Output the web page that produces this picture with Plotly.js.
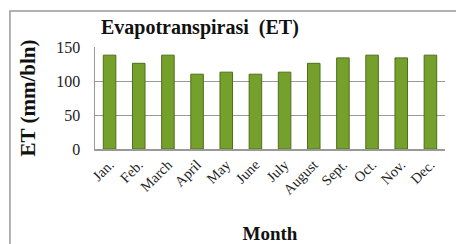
<!DOCTYPE html>
<html><head><meta charset="utf-8">
<script src="https://cdn.plot.ly/plotly-3.0.1.min.js"></script>
<style>html,body{margin:0;padding:0;background:#fff;}#chart{width:456px;height:244px;}</style>
</head><body><div id="chart"></div>
<script>
const months = ["Jan.","Feb.","March","April","May","June","July","August","Sept.","Oct.","Nov.","Dec."];
const etValues = [138,126,138,110,113,110,113,126,134,138,134,138];
const yTicks = [0,50,100,150];

const serif = "Liberation Serif, Times New Roman, serif";
const trace = {
  type: "bar", x: months, y: etValues, width: 0.43,
  marker: {color: "#76a02c", line: {color: "#4e6e1a", width: 1}},
  hoverinfo: "skip"
};
const layout = {
  width: 456, height: 244,
  margin: {l: 95, r: 11, t: 47, b: 95},
  paper_bgcolor: "#fff", plot_bgcolor: "#fff",
  showlegend: false,
  font: {family: serif, color: "#333"},
  xaxis: {
    type: "category", tickangle: -45, tickfont: {size: 14.5, family: serif, color: "#222"},
    showline: true, linecolor: "#999", linewidth: 1.5, ticks: "", showgrid: false,
    automargin: false,
    title: {text: "<b>Month</b>", font: {size: 19, family: serif, color: "#111"}, standoff: 30}
  },
  yaxis: {
    range: [0, 150], tickvals: yTicks, tickfont: {size: 16, family: serif, color: "#222"},
    showline: true, linecolor: "#999", linewidth: 1.5, gridcolor: "#999", gridwidth: 1,
    zeroline: false, ticks: "", ticklen: 0, ticklabelstandoff: 10, automargin: false,
    title: {text: "<b>ET (mm/bln)</b>", font: {size: 21, family: serif, color: "#111"}, standoff: 15}
  },
  annotations: [{
    text: "<b>Evapotranspirasi  (ET)</b>", xref: "paper", yref: "paper",
    x: 0.012, y: 1.19, xanchor: "left", yanchor: "middle", showarrow: false,
    font: {size: 20, family: serif, color: "#111"}
  }],
  shapes: [{
    type: "rect", xref: "paper", yref: "paper",
    x0: -0.243, x1: 1.1, y0: -1.1, y1: 1.353,
    line: {color: "#999", width: 1.5}, layer: "below"
  }]
};
Plotly.newPlot("chart", [trace], layout, {staticPlot: true, displayModeBar: false});
</script></body></html>
